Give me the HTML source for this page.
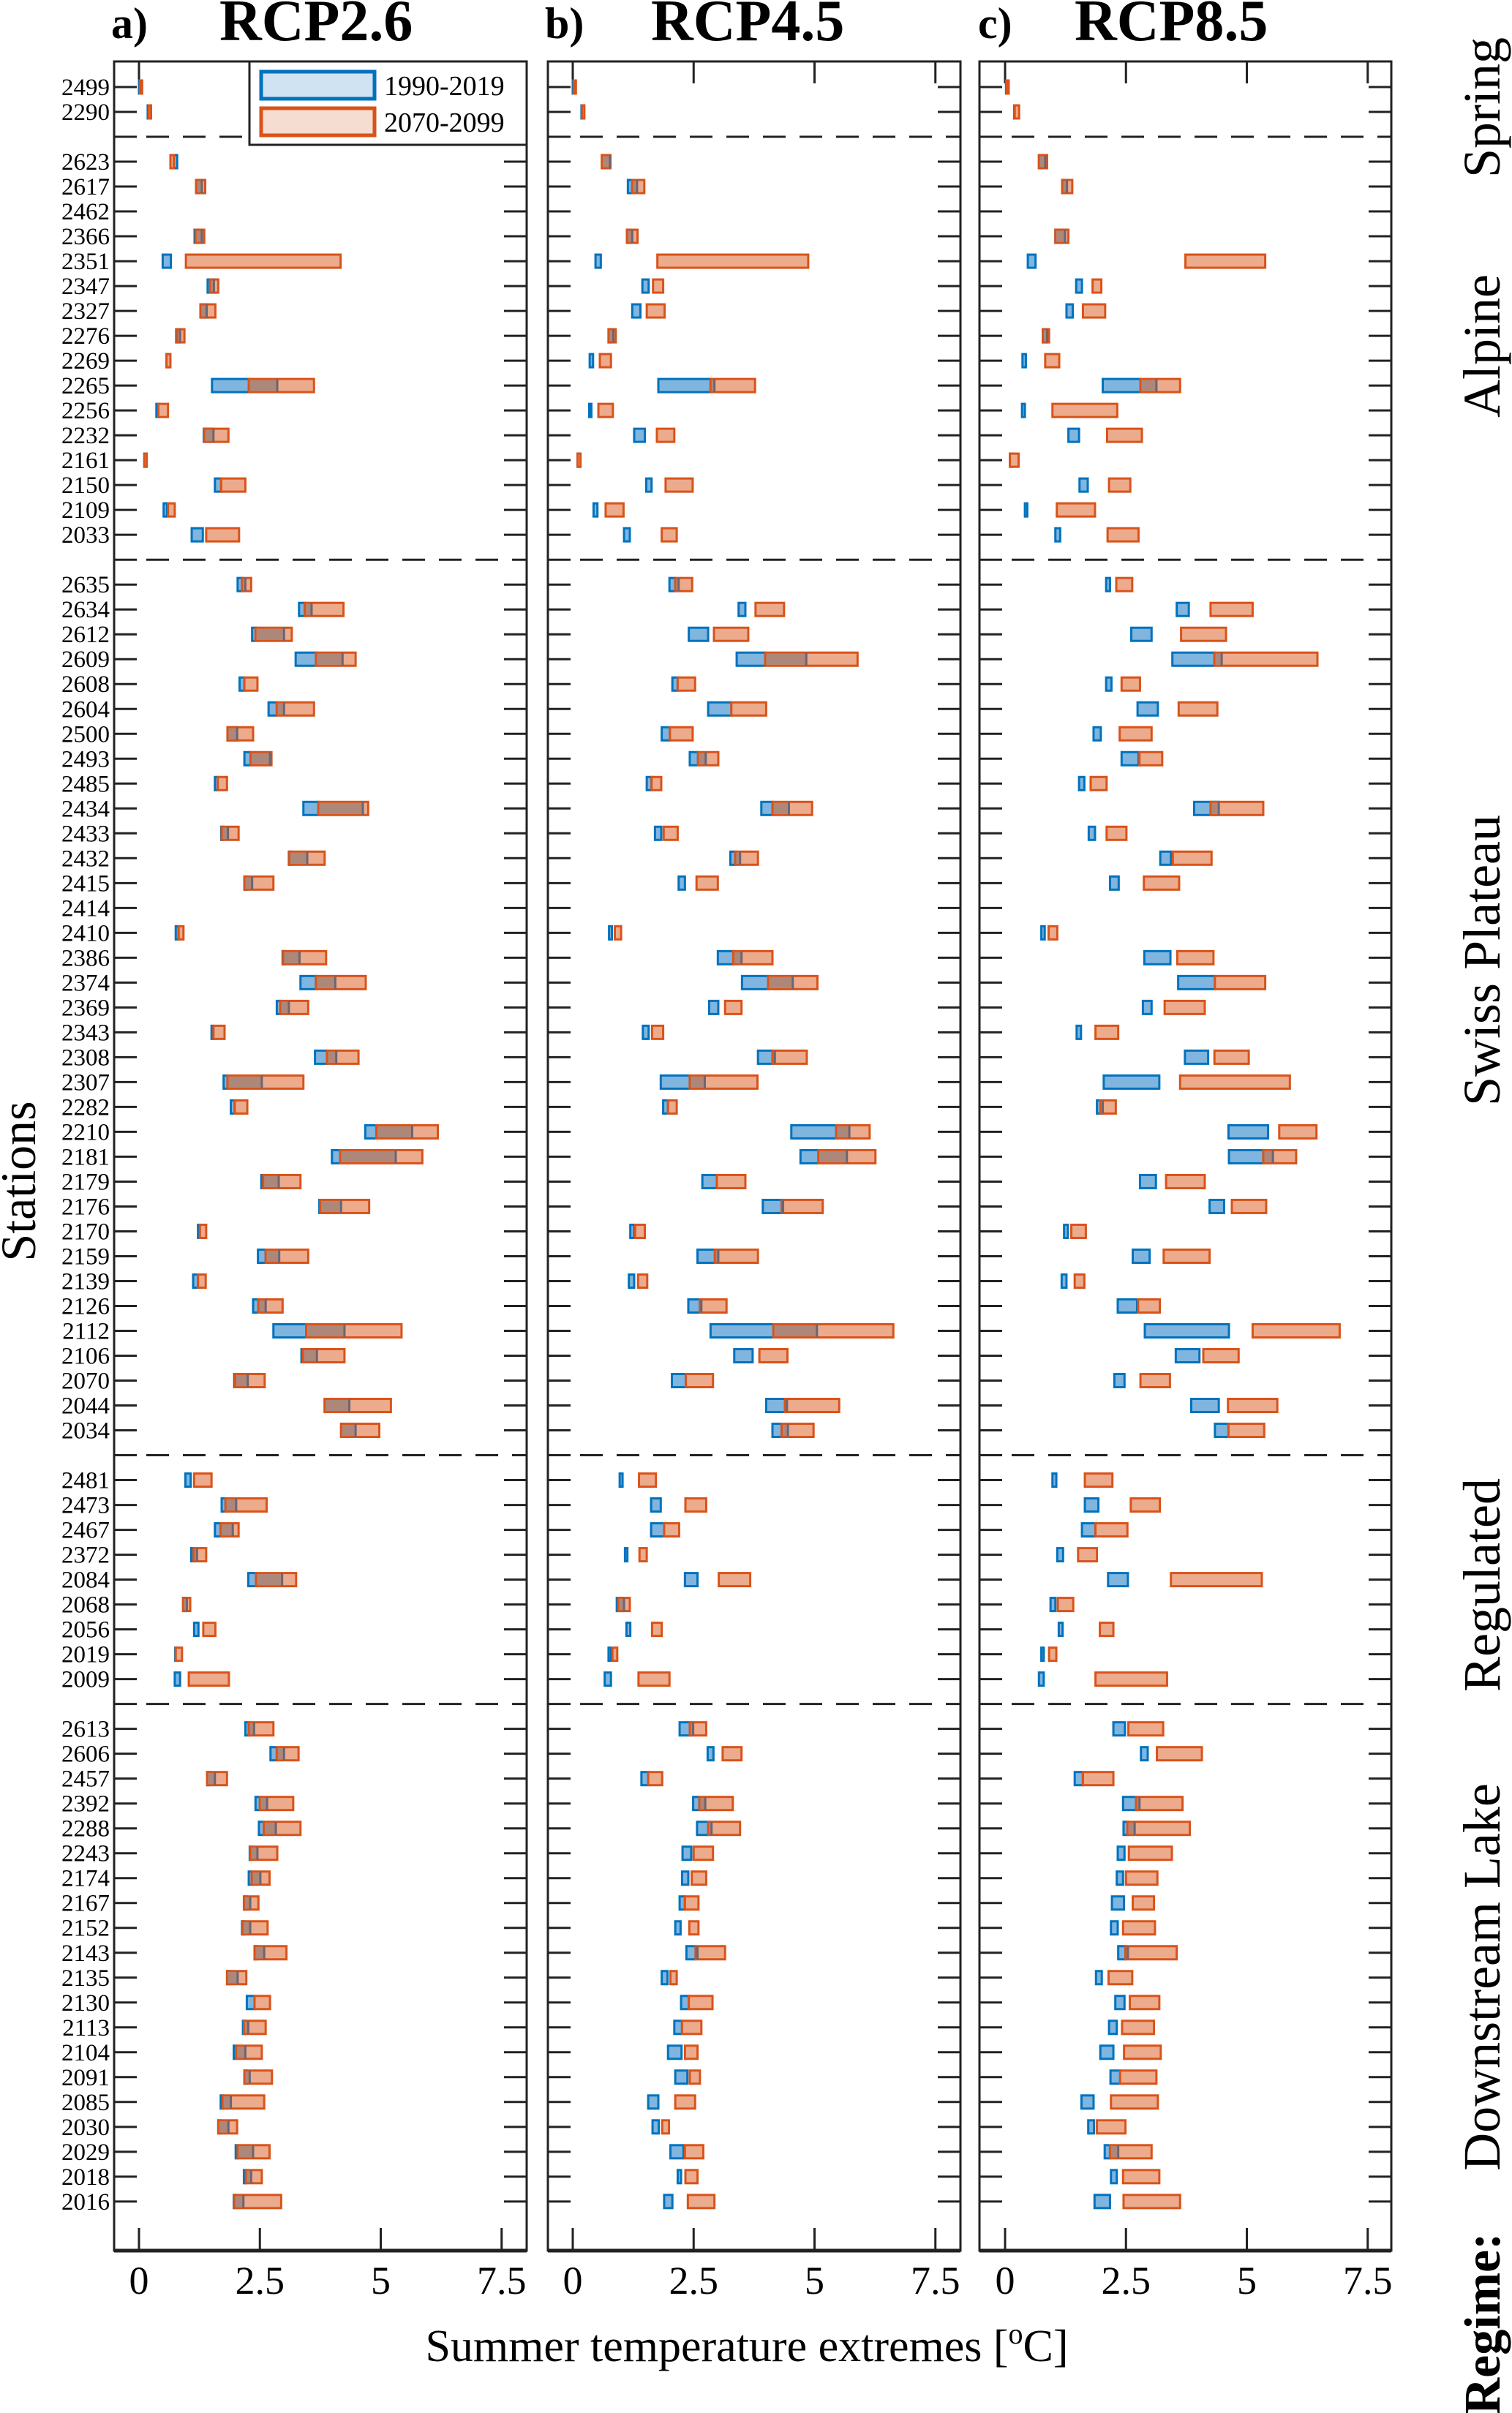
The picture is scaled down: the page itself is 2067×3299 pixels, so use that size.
<!DOCTYPE html>
<html><head><meta charset="utf-8"><style>
html,body{margin:0;padding:0;background:#fff}
svg{display:block;font-family:"Liberation Serif",serif}
</style></head><body>
<svg id="chart" xmlns="http://www.w3.org/2000/svg" width="2067" height="3299" viewBox="0 0 2067 3299">
<rect width="2067" height="3299" fill="#fff"/>
<g id="g"></g>
</svg>
<script>
const stations=[2499,2290,2623,2617,2462,2366,2351,2347,2327,2276,2269,2265,2256,2232,2161,2150,2109,2033,
2635,2634,2612,2609,2608,2604,2500,2493,2485,2434,2433,2432,2415,2414,2410,2386,2374,2369,2343,2308,2307,2282,2210,2181,2179,2176,2170,2159,2139,2126,2112,2106,2070,2044,2034,
2481,2473,2467,2372,2084,2068,2056,2019,2009,
2613,2606,2457,2392,2288,2243,2174,2167,2152,2143,2135,2130,2113,2104,2091,2085,2030,2029,2018,2016];
const groupSizes=[2,16,35,9,20];
const regimes=["Spring","Alpine","Swiss Plateau","Regulated","Downstream Lake"];
const xTicks=[0,2.5,5,7.5];
const xTickLabels=["0","2.5","5","7.5"];
const N=null;
// Panel a RCP2.6
const a_bLo=[0,0.18,0.7,1.18,N,1.15,0.49,1.42,1.28,0.77,0.57,1.51,0.36,1.34,0.11,1.57,0.51,1.09,
2.04,3.31,2.34,3.24,2.08,2.68,1.83,2.18,1.57,3.4,1.7,3.1,2.18,N,0.76,2.97,3.34,2.85,1.5,3.64,1.75,1.9,4.68,3.99,2.53,3.73,1.22,2.46,1.12,2.36,2.78,3.36,1.97,3.84,4.18,
0.96,1.71,1.57,1.08,2.26,0.92,1.14,0.75,0.74,
2.2,2.72,1.41,2.41,2.48,2.29,2.27,2.18,2.13,2.39,1.83,2.23,2.15,1.96,2.18,1.69,1.64,2.0,2.17,1.96];
const a_bHi=[0.03,0.21,0.79,1.32,N,1.3,0.66,1.59,1.41,0.85,0.6,2.27,0.42,1.54,0.16,1.7,0.58,1.32,
2.14,3.43,2.43,3.66,2.18,2.85,2.03,2.31,1.63,3.71,1.74,3.13,2.22,N,0.82,3.0,3.66,2.92,1.54,3.89,1.83,1.98,4.91,4.16,2.58,3.77,1.26,2.62,1.22,2.47,3.46,3.39,2.0,3.86,4.21,
1.07,1.79,1.69,1.13,2.42,0.95,1.23,0.8,0.85,
2.27,2.85,1.45,2.5,2.58,2.31,2.35,2.22,2.16,2.41,1.85,2.39,2.17,2.01,2.21,1.73,1.66,2.04,2.21,1.98];
const a_oLo=[0.02,0.2,0.65,1.18,N,1.17,0.97,1.47,1.27,0.79,0.57,2.27,0.4,1.35,0.11,1.7,0.6,1.39,
2.13,3.43,2.41,3.66,2.18,2.85,1.83,2.31,1.63,3.71,1.71,3.11,2.18,N,0.82,2.98,3.66,2.92,1.54,3.89,1.83,1.98,4.91,4.16,2.57,3.75,1.26,2.62,1.22,2.47,3.46,3.39,1.99,3.84,4.18,
1.14,1.79,1.69,1.13,2.42,0.91,1.33,0.76,1.03,
2.27,2.85,1.41,2.5,2.58,2.3,2.33,2.17,2.14,2.39,1.82,2.39,2.17,2.01,2.18,1.73,1.64,2.04,2.21,1.97];
const a_oHi=[0.06,0.25,0.72,1.37,N,1.35,4.17,1.64,1.58,0.94,0.65,3.62,0.6,1.85,0.16,2.2,0.74,2.07,
2.32,4.23,3.16,4.48,2.45,3.62,2.36,2.74,1.82,4.74,2.06,3.84,2.78,N,0.92,3.87,4.69,3.5,1.77,4.54,3.4,2.24,6.18,5.86,3.34,4.76,1.39,3.5,1.38,2.97,5.43,4.25,2.6,5.21,4.97,
1.5,2.64,2.06,1.39,3.25,1.06,1.58,0.89,1.86,
2.78,3.3,1.82,3.19,3.34,2.86,2.7,2.47,2.66,3.05,2.22,2.71,2.62,2.54,2.75,2.59,2.03,2.7,2.54,2.94];
const a_oDk=[N,N,N,1.3,N,1.3,N,1.55,1.4,0.85,N,2.86,N,1.54,N,N,N,N,
2.2,3.57,3.0,4.21,N,3.0,2.03,2.71,N,4.63,1.84,3.48,2.34,N,N,3.32,4.06,3.1,N,4.08,2.54,N,5.65,5.31,2.89,4.18,N,2.9,N,2.62,4.25,3.68,2.25,4.35,4.48,
N,2.01,1.94,1.2,2.96,0.99,N,N,N,
2.38,3.0,1.57,2.65,2.83,2.45,2.51,2.3,2.3,2.59,2.04,N,2.26,2.2,2.29,1.9,1.85,2.36,2.32,2.16];
// Panel b RCP4.5
const b_bLo=[0,0.18,0.7,1.14,N,1.12,0.47,1.44,1.23,0.74,0.35,1.77,0.34,1.27,0.1,1.52,0.43,1.06,
2.0,3.43,2.4,3.39,2.06,2.8,1.84,2.42,1.53,3.9,1.7,3.26,2.19,N,0.75,3.0,3.5,2.82,1.45,3.83,1.82,1.87,4.52,4.71,2.68,3.93,1.19,2.58,1.16,2.39,2.85,3.34,2.05,4.0,4.13,
0.97,1.62,1.62,1.08,2.32,0.91,1.11,0.74,0.66,
2.21,2.79,1.42,2.49,2.57,2.27,2.26,2.21,2.12,2.35,1.84,2.24,2.1,1.97,2.12,1.56,1.65,2.02,2.17,1.89];
const b_bHi=[0.03,0.2,0.77,1.23,N,1.2,0.58,1.57,1.4,0.8,0.42,2.85,0.38,1.49,0.16,1.63,0.51,1.18,
2.12,3.57,2.8,3.98,2.17,3.28,2.01,2.59,1.63,4.13,1.83,3.36,2.32,N,0.81,3.32,4.04,3.01,1.57,4.13,2.42,1.97,5.45,5.08,2.98,4.32,1.27,2.94,1.27,2.63,4.15,3.72,2.34,4.39,4.32,
1.03,1.82,1.92,1.13,2.58,1.04,1.19,0.79,0.79,
2.46,2.91,1.56,2.62,2.8,2.45,2.39,2.32,2.23,2.54,1.96,2.4,2.26,2.25,2.37,1.77,1.78,2.29,2.24,2.06];
const b_oLo=[0.02,0.19,0.6,1.23,N,1.12,1.75,1.66,1.53,0.74,0.56,2.85,0.53,1.74,0.1,1.92,0.68,1.84,
2.12,3.78,2.92,3.98,2.17,3.28,2.01,2.59,1.63,4.13,1.88,3.36,2.56,N,0.87,3.32,4.04,3.15,1.64,4.13,2.42,1.97,5.45,5.08,2.98,4.32,1.29,2.94,1.35,2.63,4.15,3.86,2.34,4.39,4.32,
1.37,2.33,1.89,1.38,3.02,0.94,1.64,0.82,1.36,
2.42,3.1,1.56,2.62,2.8,2.5,2.46,2.32,2.41,2.54,2.02,2.4,2.26,2.32,2.42,2.12,1.85,2.32,2.33,2.38];
const b_oHi=[0.05,0.24,0.78,1.48,N,1.34,4.87,1.87,1.9,0.89,0.79,3.77,0.83,2.1,0.16,2.48,1.05,2.15,
2.47,4.37,3.63,5.89,2.53,4.0,2.48,3.01,1.83,4.95,2.17,3.83,3.0,N,1.0,4.13,5.06,3.49,1.87,4.84,3.82,2.15,6.14,6.26,3.57,5.17,1.49,3.83,1.54,3.18,6.63,4.44,2.9,5.51,4.98,
1.72,2.76,2.2,1.53,3.67,1.18,1.84,0.92,2.0,
2.76,3.49,1.85,3.31,3.46,2.9,2.76,2.6,2.6,3.15,2.15,2.89,2.66,2.58,2.63,2.53,1.99,2.7,2.58,2.93];
const b_oDk=[N,N,0.77,1.33,N,1.23,N,N,N,0.84,N,2.93,N,N,N,N,N,N,
2.19,N,N,4.83,N,N,N,2.75,N,4.47,N,3.46,N,N,N,3.49,4.55,N,N,4.18,2.73,N,5.72,5.67,N,4.35,N,3.01,N,2.66,5.05,N,N,4.43,4.45,
N,N,N,N,N,1.06,N,N,N,
2.49,N,N,2.74,2.87,N,N,N,N,2.58,N,N,N,N,N,N,N,N,N,N];
// Panel c RCP8.5
const c_bLo=[0.02,0.19,0.7,1.18,N,1.04,0.47,1.47,1.27,0.78,0.36,2.02,0.35,1.31,0.1,1.54,0.41,1.04,
2.09,3.55,2.61,3.46,2.09,2.74,1.83,2.41,1.53,3.91,1.73,3.21,2.17,N,0.75,2.88,3.58,2.85,1.48,3.72,2.04,1.9,4.62,4.63,2.79,4.23,1.22,2.64,1.17,2.33,2.89,3.53,2.26,3.85,4.34,
0.98,1.65,1.59,1.08,2.13,0.94,1.11,0.75,0.7,
2.24,2.81,1.44,2.44,2.45,2.33,2.31,2.21,2.19,2.34,1.88,2.28,2.15,1.97,2.18,1.58,1.72,2.06,2.19,1.85];
const c_bHi=[0.04,0.21,0.8,1.3,N,1.25,0.63,1.59,1.4,0.86,0.43,2.8,0.41,1.53,0.16,1.71,0.46,1.14,
2.17,3.8,3.03,4.33,2.2,3.16,1.98,2.76,1.64,4.42,1.86,3.43,2.35,N,0.82,3.42,4.34,3.03,1.57,4.2,3.19,2.02,5.44,5.34,3.12,4.53,1.3,2.99,1.27,2.73,4.63,4.02,2.47,4.42,4.62,
1.06,1.93,1.87,1.2,2.54,1.04,1.19,0.8,0.8,
2.48,2.95,1.61,2.71,2.54,2.47,2.44,2.46,2.33,2.49,2.0,2.47,2.31,2.24,2.38,1.83,1.84,2.17,2.31,2.17];
const c_oLo=[0.03,0.2,0.7,1.18,N,1.04,3.73,1.81,1.61,0.78,0.83,2.8,0.98,2.11,0.1,2.15,1.07,2.12,
2.3,4.25,3.64,4.33,2.41,3.59,2.37,2.78,1.77,4.25,2.1,3.47,2.87,N,0.9,3.56,4.34,3.3,1.87,4.33,3.62,1.97,5.67,5.34,3.33,4.69,1.37,3.28,1.44,2.75,5.12,4.1,2.8,4.61,4.62,
1.65,2.6,1.87,1.51,3.43,1.09,1.96,0.91,1.87,
2.55,3.14,1.61,2.71,2.53,2.56,2.5,2.64,2.44,2.49,2.14,2.58,2.42,2.46,2.38,2.19,1.9,2.17,2.44,2.45];
const c_oHi=[0.06,0.29,0.87,1.39,N,1.31,5.38,1.99,2.07,0.91,1.12,3.62,2.32,2.83,0.28,2.59,1.86,2.76,
2.63,5.12,4.57,6.46,2.79,4.39,3.03,3.25,2.1,5.34,2.51,4.27,3.6,N,1.08,4.31,5.38,4.13,2.34,5.04,5.89,2.29,6.44,6.02,4.13,5.4,1.67,4.23,1.64,3.2,6.92,4.83,3.41,5.63,5.36,
2.22,3.2,2.53,1.9,5.31,1.41,2.24,1.06,3.35,
3.27,4.07,2.24,3.67,3.82,3.45,3.15,3.08,3.1,3.55,2.63,3.19,3.08,3.22,3.13,3.16,2.49,3.03,3.19,3.62];
const c_oDk=[N,N,0.83,1.28,N,1.24,N,N,N,0.87,N,3.13,N,N,N,N,N,N,
N,N,N,4.48,N,N,N,N,N,4.42,N,N,N,N,N,N,N,N,N,N,N,2.02,N,5.54,N,N,N,N,N,N,N,N,N,N,N,
N,N,N,N,N,N,N,N,N,
N,N,N,2.78,2.68,N,N,N,N,2.54,N,N,N,N,N,N,N,2.34,N,N];

const panels=[
 {L:156,R:720,z:190,tag:"a)",title:"RCP2.6",tx:300,lx:152,bLo:a_bLo,bHi:a_bHi,oLo:a_oLo,oHi:a_oHi,oDk:a_oDk},
 {L:749,R:1313,z:783,tag:"b)",title:"RCP4.5",tx:890,lx:745,bLo:b_bLo,bHi:b_bHi,oLo:b_oLo,oHi:b_oHi,oDk:b_oDk},
 {L:1339,R:1902,z:1374,tag:"c)",title:"RCP8.5",tx:1469,lx:1337,bLo:c_bLo,bHi:c_bHi,oLo:c_oLo,oHi:c_oHi,oDk:c_oDk}];
const UNIT=66.1, TOP=84, BOT=3077, Y0=119, STEP=34.01, BH=18;
function xs(p,v){return p.z+v*UNIT;}
function ys(slot){return Y0+slot*STEP;}
const NS="http://www.w3.org/2000/svg";
const G=document.getElementById('g');
function el(tag,attrs,parent){const e=document.createElementNS(NS,tag);for(const k in attrs)e.setAttribute(k,attrs[k]);(parent||G).appendChild(e);return e;}

const slotOf=[];const sepSlots=[];
{let s=0,i=0;groupSizes.forEach((n,gi)=>{for(let k=0;k<n;k++){slotOf[i++]=s++;} if(gi<groupSizes.length-1){sepSlots.push(s);s++;}});}

panels.forEach((p,pi)=>{
 const pg=el('g',{});
 
 
 const tg=el('text',{x:p.lx,y:52,'font-size':60,'font-weight':'bold'},pg);tg.textContent=p.tag;
 
 
 const tt=el('text',{x:p.tx,y:55,'font-size':80,'font-weight':'bold'},pg);tt.textContent=p.title;
 
 
 for(let s=0;s<=85;s++){el('line',{x1:p.L,x2:p.L+31,y1:ys(s),y2:ys(s),stroke:'#222','stroke-width':3},pg);}
 stations.forEach((st,i)=>{el('line',{x1:p.R-31,x2:p.R,y1:ys(slotOf[i]),y2:ys(slotOf[i]),stroke:'#222','stroke-width':3},pg);});
 sepSlots.forEach(s=>{const d=el('line',{x1:p.L+44,x2:p.R,y1:ys(s),y2:ys(s),stroke:'#222','stroke-width':3,'stroke-dasharray':'31 19'},pg);
  
  });
 xTicks.forEach((v,k)=>{const x=xs(p,v);
  el('line',{x1:x,x2:x,y1:TOP,y2:TOP+30,stroke:'#222','stroke-width':3},pg);
  el('line',{x1:x,x2:x,y1:BOT-31,y2:BOT,stroke:'#222','stroke-width':3},pg);
  const t=el('text',{x:x,y:3136,'font-size':54,'text-anchor':'middle'},pg);t.textContent=xTickLabels[k];
  
  });
 stations.forEach((st,i)=>{
  const y=ys(slotOf[i])-BH/2;
  if(p.bLo[i]!==null){const b=el('rect',{x:xs(p,p.bLo[i]),y:y,width:Math.max(3,xs(p,p.bHi[i])-xs(p,p.bLo[i])),height:BH,fill:'#7fb5df',stroke:'#0072bd','stroke-width':3},pg);
   
   }
  if(p.oLo[i]!==null){const o=el('rect',{x:xs(p,p.oLo[i]),y:y,width:Math.max(3,xs(p,p.oHi[i])-xs(p,p.oLo[i])),height:BH,fill:'#ecab8c',stroke:'#d95319','stroke-width':3},pg);
   
   
   if(p.oDk[i]!==null){const dk=el('rect',{x:xs(p,p.oLo[i])+1.5,y:y+1.5,width:Math.max(1,xs(p,p.oDk[i])-xs(p,p.oLo[i])-1.5),height:BH-3,fill:'#ad877a'},pg);
    
    
    el('line',{x1:xs(p,p.oDk[i]),x2:xs(p,p.oDk[i]),y1:y,y2:y+BH,stroke:'#6e6470','stroke-width':3},pg);}
  }
 });
 const fr=el('rect',{x:p.L,y:TOP,width:p.R-p.L,height:BOT-TOP,fill:'none',stroke:'#222','stroke-width':3},pg);
 
 
 el('line',{x1:p.L,x2:p.R,y1:BOT,y2:BOT,stroke:'#222','stroke-width':5},pg);
});
stations.forEach((st,i)=>{const t=el('text',{x:150,y:ys(slotOf[i])+11,'font-size':33,'text-anchor':'end'});t.textContent=st;
 
 });
{const lg=el('g',{});
 
 
 el('rect',{x:341,y:84,width:379,height:114,fill:'#fff',stroke:'#222','stroke-width':3},lg);
 const e1=el('rect',{x:357,y:98,width:155,height:37,fill:'#cfe3f2',stroke:'#0072bd','stroke-width':5},lg);
 
 
 const e2=el('rect',{x:357,y:148,width:155,height:37,fill:'#f6ddd1',stroke:'#d95319','stroke-width':5},lg);
 
 
 const t1=el('text',{x:525,y:130,'font-size':38},lg);t1.textContent='1990-2019';
 
 
 const t2=el('text',{x:525,y:180,'font-size':38},lg);t2.textContent='2070-2099';
 
 }
{const t=el('text',{x:1021,y:3228,'font-size':62,'text-anchor':'middle'});
 
 
 t.innerHTML='Summer temperature extremes [<tspan dy="-24" font-size="40">o</tspan><tspan dy="24">C]</tspan>';
 const s=el('text',{x:0,y:0,'font-size':68,'text-anchor':'middle',transform:'translate(48,1615) rotate(-90)'});s.textContent='Stations';
 
 }
{const centers=[147,473,1313,2167,2703];
 regimes.forEach((r,k)=>{const t=el('text',{x:0,y:0,'font-size':72,'text-anchor':'middle',transform:'translate(2050,'+centers[k]+') rotate(-90)'});t.textContent=r;
  
  });
 const rg=el('text',{x:0,y:0,'font-size':70,'font-weight':'bold','text-anchor':'middle',transform:'translate(2050,3177) rotate(-90)'});rg.textContent='Regime:';
 
 }
</script>
</body></html>
